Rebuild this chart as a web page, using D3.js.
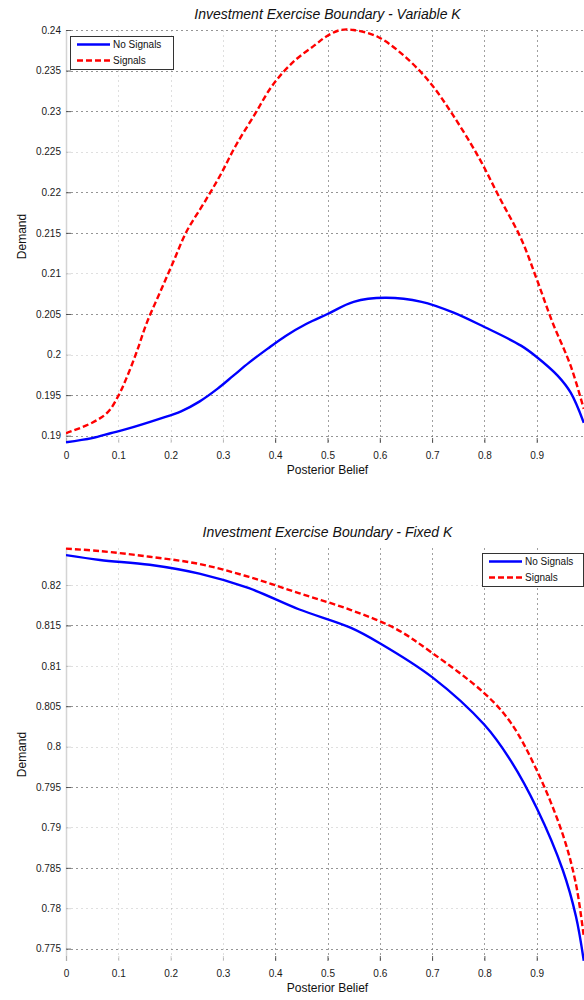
<!DOCTYPE html>
<html>
<head>
<meta charset="utf-8">
<script src="https://cdn.jsdelivr.net/npm/d3@7/dist/d3.min.js"></script>
<style>
  html, body { margin: 0; padding: 0; background: #fff; overflow: hidden; }
  svg { display: block; font-family: "Liberation Sans", Arial, sans-serif; }
</style>
</head>
<body>
<svg id="chart" width="584" height="1000"></svg>
<script>
// Posterior belief ticks shared by both panels
const beliefTicks = [0, 0.1, 0.2, 0.3, 0.4, 0.5, 0.6, 0.7, 0.8, 0.9];

// Variable K panel
const variableTicks = [0.19, 0.195, 0.2, 0.205, 0.21, 0.215, 0.22, 0.225, 0.23, 0.235, 0.24];
const variableLightTicks = [0.2, 0.21, 0.225];
const variableNoSignalsX = [0, 0.05, 0.085, 0.115, 0.18, 0.22, 0.255, 0.29, 0.32, 0.35, 0.385, 0.42, 0.46, 0.5, 0.55, 0.61, 0.68, 0.74, 0.8, 0.87, 0.9, 0.94, 0.965, 0.99];
const variableNoSignalsY = [0.1892, 0.1897, 0.1903, 0.1908, 0.1921, 0.1930, 0.1942, 0.1958, 0.1974, 0.1990, 0.2007, 0.2023, 0.2038, 0.2050, 0.2065, 0.2070, 0.2065, 0.2052, 0.2034, 0.2011, 0.1997, 0.1974, 0.1953, 0.1916];
const variableSignalsX = [0, 0.05, 0.08, 0.1, 0.115, 0.135, 0.155, 0.18, 0.205, 0.23, 0.265, 0.295, 0.325, 0.36, 0.395, 0.435, 0.475, 0.5, 0.525, 0.55, 0.595, 0.645, 0.695, 0.74, 0.79, 0.83, 0.87, 0.9, 0.93, 0.965, 0.99];
const variableSignalsY = [0.1903, 0.1916, 0.1929, 0.1949, 0.1970, 0.2003, 0.2040, 0.2077, 0.2114, 0.2151, 0.2188, 0.2221, 0.2258, 0.2295, 0.2332, 0.2361, 0.2381, 0.2393, 0.2400, 0.2400, 0.2392, 0.2369, 0.2336, 0.2295, 0.2242, 0.2192, 0.2143, 0.2093, 0.2040, 0.1986, 0.1933];

// Fixed K panel
const fixedTicks = [0.775, 0.78, 0.785, 0.79, 0.795, 0.8, 0.805, 0.81, 0.815, 0.82];
const fixedLightTicks = [0.78, 0.79, 0.8, 0.81, 0.82];
const fixedNoSignalsX = [0, 0.065, 0.16, 0.255, 0.35, 0.445, 0.545, 0.6, 0.7, 0.8, 0.85, 0.9, 0.95, 0.975, 0.99];
const fixedNoSignalsY = [0.8237, 0.8231, 0.8225, 0.8214, 0.8196, 0.8170, 0.8147, 0.8128, 0.8086, 0.8027, 0.7983, 0.7924, 0.7847, 0.7790, 0.7735];
const fixedSignalsX = [0, 0.065, 0.16, 0.255, 0.35, 0.445, 0.545, 0.63, 0.7, 0.8, 0.85, 0.9, 0.95, 0.975, 0.99];
const fixedSignalsY = [0.8245, 0.8242, 0.8235, 0.8226, 0.8210, 0.8190, 0.8169, 0.8146, 0.8116, 0.8066, 0.8030, 0.7971, 0.7891, 0.7830, 0.7765];

const seriesNames = ["No Signals", "Signals"];

const svg = d3.select("#chart");
const fmt = d => String(+d.toFixed(3));

function panel(opts) {
  const { top, bottom, yDomain, yTicks, lightTicks, title, series, legend, id } = opts;
  const left = 66, right = 589;
  const x = d3.scaleLinear().domain([0, 1]).range([left, right]);
  const y = d3.scaleLinear().domain(yDomain).range([bottom, top]);
  const isLight = d => lightTicks.some(t => Math.abs(t - d) < 1e-9);
  const g = svg.append("g");

  g.append("clipPath").attr("id", id)
    .append("rect").attr("x", left).attr("y", top - 2).attr("width", right - left).attr("height", bottom - top + 4);

  // grid
  const grid = g.append("g").attr("stroke", "#7a7a7a").attr("stroke-width", 0.8)
    .attr("stroke-dasharray", "2,3").attr("fill", "none");
  grid.selectAll("line.h").data(yTicks).join("line")
    .attr("x1", left).attr("x2", right)
    .attr("y1", d => Math.round(y(d)) + 0.5).attr("y2", d => Math.round(y(d)) + 0.5)
    .attr("stroke-opacity", d => isLight(d) ? 0.3 : 1);
  grid.selectAll("line.v").data(beliefTicks.slice(1)).join("line")
    .attr("y1", top).attr("y2", bottom)
    .attr("x1", d => Math.round(x(d)) + 0.5).attr("x2", d => Math.round(x(d)) + 0.5)
    .attr("stroke-opacity", d => d < 0.35 ? 0.3 : 0.9);

  // left axis line
  g.append("line").attr("x1", left + 0.5).attr("x2", left + 0.5).attr("y1", top).attr("y2", bottom)
    .attr("stroke", "#d4d4d4").attr("stroke-width", 1.5);

  const yAxis = d3.axisLeft(y).tickValues(yTicks).tickFormat(fmt).tickSize(-5).tickPadding(6);
  const ya = g.append("g").attr("transform", `translate(${left},0)`).call(yAxis);
  ya.select(".domain").remove();
  ya.selectAll(".tick line").attr("stroke", "#333").attr("stroke-width", 0.8)
    .attr("stroke-opacity", d => isLight(d) ? 0.25 : 1);
  ya.selectAll(".tick text").attr("font-size", 10).attr("fill", "#1a1a1a")
    .attr("x", -5).attr("font-family", "Liberation Sans, Arial, sans-serif");

  const xAxis = d3.axisBottom(x).tickValues(beliefTicks).tickFormat(fmt).tickSize(-5).tickPadding(9);
  const xa = g.append("g").attr("transform", `translate(0,${bottom})`).call(xAxis);
  xa.select(".domain").remove();
  xa.selectAll(".tick line").attr("stroke", "#333").attr("stroke-width", 0.8)
    .attr("stroke-opacity", d => d < 0.35 ? 0.3 : 1);
  xa.selectAll(".tick text").attr("font-size", 10).attr("fill", "#1a1a1a")
    .attr("font-family", "Liberation Sans, Arial, sans-serif");

  // titles and axis labels
  g.append("text").attr("x", (left + right) / 2).attr("y", top - 11)
    .attr("text-anchor", "middle").attr("font-size", 14).attr("font-style", "italic")
    .attr("fill", "#111").text(title);
  g.append("text").attr("x", (left + right) / 2).attr("y", bottom + 31)
    .attr("text-anchor", "middle").attr("font-size", 12).attr("fill", "#111").text("Posterior Belief");
  g.append("text").attr("transform", `translate(26,${(top + bottom) / 2}) rotate(-90)`)
    .attr("text-anchor", "middle").attr("font-size", 12).attr("fill", "#111").text("Demand");

  // curves
  const line = d3.line().x(d => x(d[0])).y(d => y(d[1])).curve(d3.curveCatmullRom.alpha(0.5));
  const curves = g.append("g").attr("clip-path", `url(#${id})`);
  series.forEach(s => {
    curves.append("path")
      .datum(d3.zip(s.xs, s.ys))
      .attr("d", line).attr("fill", "none")
      .attr("stroke", s.color).attr("stroke-width", 2.4)
      .attr("stroke-dasharray", s.dash || null);
  });

  // legend
  const lg = g.append("g").attr("transform", `translate(${legend.x},${legend.y})`);
  lg.append("rect").attr("x", 0.5).attr("y", 0.5).attr("width", legend.w).attr("height", 33)
    .attr("fill", "#fff").attr("stroke", "#333").attr("stroke-width", 1);
  series.forEach((s, i) => {
    const ly = 8.5 + i * 16;
    lg.append("line").attr("x1", 7).attr("x2", 40).attr("y1", ly).attr("y2", ly)
      .attr("stroke", s.color).attr("stroke-width", 2.4).attr("stroke-dasharray", s.dash || null);
    lg.append("text").attr("x", 43).attr("y", ly + 3.8).attr("font-size", 10)
      .attr("fill", "#111").text(s.name);
  });
}

panel({
  id: "clipVariable",
  top: 30, bottom: 443,
  yDomain: [0.1891, 0.24],
  yTicks: variableTicks,
  lightTicks: variableLightTicks,
  title: "Investment Exercise Boundary - Variable K",
  legend: { x: 70, y: 36, w: 103 },
  series: [
    { name: seriesNames[0], xs: variableNoSignalsX, ys: variableNoSignalsY, color: "#0000ff" },
    { name: seriesNames[1], xs: variableSignalsX, ys: variableSignalsY, color: "#ff0000", dash: "6,3" }
  ]
});

panel({
  id: "clipFixed",
  top: 548, bottom: 961,
  yDomain: [0.77347, 0.82458],
  yTicks: fixedTicks,
  lightTicks: fixedLightTicks,
  title: "Investment Exercise Boundary - Fixed K",
  legend: { x: 482, y: 553, w: 101 },
  series: [
    { name: seriesNames[0], xs: fixedNoSignalsX, ys: fixedNoSignalsY, color: "#0000ff" },
    { name: seriesNames[1], xs: fixedSignalsX, ys: fixedSignalsY, color: "#ff0000", dash: "6,3" }
  ]
});
</script>
</body>
</html>
